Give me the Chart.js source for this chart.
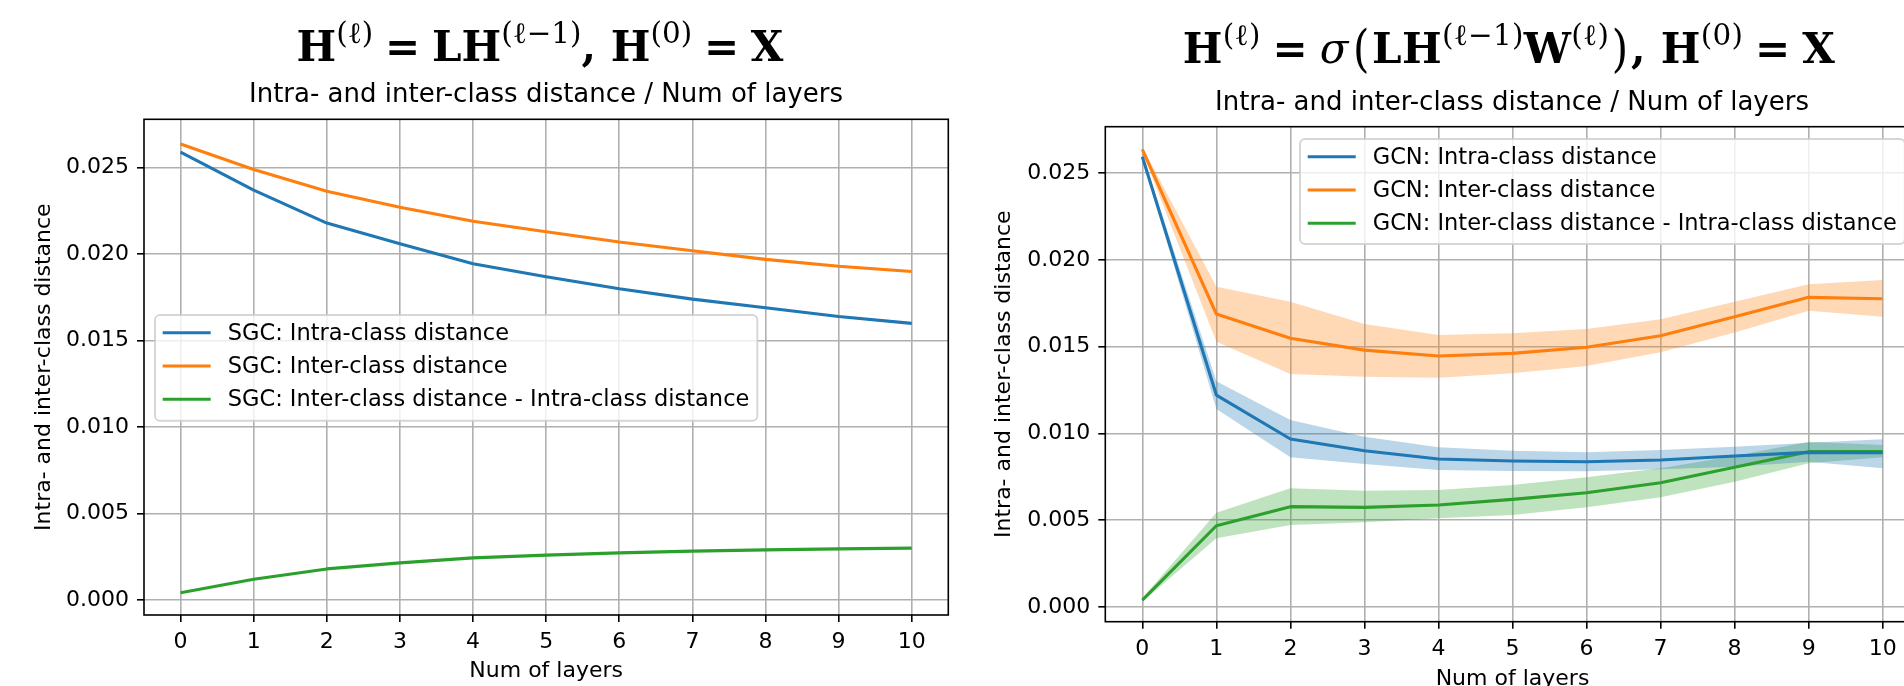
<!DOCTYPE html>
<html>
<head>
<meta charset="utf-8">
<script src="https://cdn.jsdelivr.net/npm/chart.js@4.4.0/dist/chart.umd.min.js"></script>
<style>
html, body { margin: 0; padding: 0; background: #fff; overflow: hidden; width: 1904px; height: 686px; }
canvas { position: absolute; top: 0; }
#left { left: 0; }
#right { left: 952px; }
.sup-title { position: absolute; font-family: "DejaVu Serif"; font-weight: bold; font-size: 42px; line-height: 1; white-space: nowrap; transform: translateX(-50%); color: #000; }
.sup-title sup { font-size: 0.7em; font-weight: normal; position: relative; top: -0.6em; vertical-align: baseline; }
.sup-title .eq { margin: 0 0.28em; }
.sup-title .big { display: inline-block; font-weight: normal; transform: scale(1, 1.2); margin: 0 0.06em; }
.sup-title i { font-weight: normal; margin-right: 0.04em; }
.sub-title { position: absolute; font-family: "DejaVu Sans"; font-size: 26px; line-height: 1; white-space: nowrap; transform: translateX(-50%); color: #000; }
</style>
</head>
<body>
<canvas id="left" width="952" height="700"></canvas>
<canvas id="right" width="990" height="700"></canvas>

<div class="sup-title" style="left:540px; top:26px;"><b>H</b><sup>(ℓ)</sup><span class="eq">=</span><b>LH</b><sup>(ℓ−1)</sup>, <b>H</b><sup>(0)</sup><span class="eq">=</span><b>X</b></div>
<div class="sub-title" style="left:546px; top:80px;">Intra- and inter-class distance / Num of layers</div>

<div class="sup-title" style="left:1509px; top:28px; letter-spacing:0.3px;"><b>H</b><sup>(ℓ)</sup><span class="eq">=</span><i>σ</i><span class="big">(</span><b>LH</b><sup>(ℓ−1)</sup><b>W</b><sup>(ℓ)</sup><span class="big">)</span>, <b>H</b><sup>(0)</sup><span class="eq">=</span><b>X</b></div>
<div class="sub-title" style="left:1512px; top:88px;">Intra- and inter-class distance / Num of layers</div>

<script>
// x values and ticks
const layers = [0, 1, 2, 3, 4, 5, 6, 7, 8, 9, 10];
const xTicks = [0, 1, 2, 3, 4, 5, 6, 7, 8, 9, 10];
const yTicks = [0, 0.005, 0.010, 0.015, 0.020, 0.025];

// SGC (left)
const sgcIntra = [0.0259, 0.0237, 0.0218, 0.0206, 0.01945, 0.0187, 0.0180, 0.0174, 0.0169, 0.0164, 0.0160];
const sgcInter = [0.02637, 0.0249, 0.02364, 0.02272, 0.0219, 0.0213, 0.0207, 0.0202, 0.0197, 0.0193, 0.0190];
const sgcGap = [0.00042, 0.0012, 0.0018, 0.00215, 0.00244, 0.0026, 0.00273, 0.00283, 0.0029, 0.00296, 0.0030];

// GCN (right) with spread bands
const gcnIntra = [0.02594, 0.01221, 0.00968, 0.0090, 0.00853, 0.00841, 0.00837, 0.00847, 0.0087, 0.00891, 0.00889];
const gcnIntraLo = [0.0258, 0.0114, 0.00862, 0.00824, 0.00789, 0.00783, 0.00782, 0.00793, 0.00808, 0.00837, 0.00799];
const gcnIntraHi = [0.0261, 0.0130, 0.01077, 0.00981, 0.0092, 0.0090, 0.00891, 0.00904, 0.00923, 0.00946, 0.00966];
const gcnInter = [0.02636, 0.01688, 0.01548, 0.0148, 0.01446, 0.01461, 0.01496, 0.01563, 0.01672, 0.01784, 0.01776];
const gcnInterLo = [0.0262, 0.01528, 0.01342, 0.01327, 0.01321, 0.01346, 0.01388, 0.01467, 0.01582, 0.01707, 0.01672];
const gcnInterHi = [0.0265, 0.01845, 0.01759, 0.0163, 0.01567, 0.01577, 0.01601, 0.01657, 0.01759, 0.01859, 0.01884];
const gcnGap = [0.0004, 0.00468, 0.00578, 0.00574, 0.00588, 0.0062, 0.00658, 0.00716, 0.00805, 0.00895, 0.00895];
const gcnGapLo = [0.0003, 0.00396, 0.00472, 0.00488, 0.00511, 0.0053, 0.00574, 0.00632, 0.00722, 0.00828, 0.00862];
const gcnGapHi = [0.0005, 0.00543, 0.00684, 0.0067, 0.00674, 0.00703, 0.00747, 0.00799, 0.0087, 0.00952, 0.00933];

const BLUE = "#1f77b4", ORANGE = "#ff7f0e", GREEN = "#2ca02c";

Chart.defaults.font.family = "DejaVu Sans";
Chart.defaults.font.size = 22;
Chart.defaults.color = "#000";

function pts(arr) {
    return layers.map((x, i) => ({x: x, y: arr[i]}));
}

function line(label, arr, color) {
    return {
        label: label, data: pts(arr), borderColor: color, backgroundColor: color,
        borderWidth: 3.1, pointRadius: 0, tension: 0, fill: false,
        borderJoinStyle: "round", inLegend: true
    };
}

function band(arr, color, fillNext) {
    return {
        label: "", data: pts(arr), borderColor: "transparent", backgroundColor: color,
        borderWidth: 0, pointRadius: 0, tension: 0, fill: fillNext ? "+1" : false
    };
}

// black box round the plot area
const frame = {
    id: "frame",
    afterDatasetsDraw(chart) {
        const a = chart.chartArea, ctx = chart.ctx;
        ctx.save();
        ctx.strokeStyle = "#000";
        ctx.lineWidth = 1.6;
        ctx.strokeRect(a.left, a.top, a.right - a.left, a.bottom - a.top);
        ctx.restore();
    }
};

// matplotlib style legend box
const boxLegend = {
    id: "boxLegend",
    afterDraw(chart, args, o) {
        const ctx = chart.ctx;
        const items = chart.data.datasets.filter(d => d.inLegend);
        ctx.save();
        ctx.font = o.fontSize + 'px "DejaVu Sans"';
        const tw = Math.max(...items.map(d => ctx.measureText(d.label).width));
        const w = o.textX + tw + o.padRight, h = o.height, r = 5;
        ctx.beginPath();
        ctx.roundRect(o.x, o.y, w, h, r);
        ctx.fillStyle = "rgba(255,255,255,0.8)";
        ctx.fill();
        ctx.strokeStyle = "rgba(204,204,204,0.8)";
        ctx.lineWidth = 2;
        ctx.stroke();
        items.forEach((d, i) => {
            const y = o.y + o.firstRow + i * o.rowH;
            ctx.beginPath();
            ctx.moveTo(o.x + o.handleX0, y);
            ctx.lineTo(o.x + o.handleX1, y);
            ctx.strokeStyle = d.borderColor;
            ctx.lineWidth = d.borderWidth;
            ctx.stroke();
            ctx.fillStyle = "#000";
            ctx.textBaseline = "middle";
            ctx.fillText(d.label, o.x + o.textX, y + 1);
        });
        ctx.restore();
    }
};

function makeOptions(cfg) {
    return {
        responsive: false,
        animation: false,
        layout: {padding: {left: 0, right: cfg.padRight, top: cfg.top, bottom: 0}},
        plugins: {
            legend: {display: false},
            tooltip: {enabled: false},
            filler: {drawTime: "beforeDatasetsDraw"},
            boxLegend: cfg.legend
        },
        scales: {
            x: {
                type: "linear", min: -0.5, max: 10.5,
                afterBuildTicks: s => { s.ticks = xTicks.map(v => ({value: v})); },
                afterFit: s => { s.height = cfg.xHeight; },
                ticks: {padding: 7, maxRotation: 0, autoSkip: false, callback: v => String(v)},
                grid: {color: "#b0b0b0", lineWidth: 1.6, tickColor: "#000", tickLength: 7, tickWidth: 1.6},
                border: {display: false},
                title: {display: true, text: "Num of layers", padding: {top: 0, bottom: cfg.xTitlePad}}
            },
            y: {
                type: "linear", min: cfg.yMin, max: cfg.yMax,
                afterBuildTicks: s => { s.ticks = yTicks.map(v => ({value: v})); },
                afterFit: s => { s.width = cfg.yWidth; },
                ticks: {padding: 8, callback: v => v.toFixed(3)},
                grid: {color: "#b0b0b0", lineWidth: 1.6, tickColor: "#000", tickLength: 7, tickWidth: 1.6},
                border: {display: false},
                title: {display: true, text: "Intra- and inter-class distance", padding: {top: cfg.yTitlePad, bottom: 0}}
            }
        }
    };
}

new Chart(document.getElementById("left"), {
    type: "line",
    data: {
        datasets: [
            line("SGC: Intra-class distance", sgcIntra, BLUE),
            line("SGC: Inter-class distance", sgcInter, ORANGE),
            line("SGC: Inter-class distance - Intra-class distance", sgcGap, GREEN)
        ]
    },
    options: makeOptions({
        padRight: 3.7, top: 119.3, xHeight: 85, yWidth: 144,
        yMin: -0.000865, yMax: 0.0278, xTitlePad: 16, yTitlePad: 31,
        legend: {x: 155, y: 315, height: 105.7, firstRow: 17.7, rowH: 33.3,
                 handleX0: 7.7, handleX1: 55.7, textX: 72.7, padRight: 8, fontSize: 22.5}
    }),
    plugins: [frame, boxLegend]
});

new Chart(document.getElementById("right"), {
    type: "line",
    data: {
        datasets: [
            line("GCN: Intra-class distance", gcnIntra, BLUE),
            line("GCN: Inter-class distance", gcnInter, ORANGE),
            line("GCN: Inter-class distance - Intra-class distance", gcnGap, GREEN),
            band(gcnIntraHi, "rgba(31,119,180,0.3)", true),
            band(gcnIntraLo, "rgba(31,119,180,0.3)", false),
            band(gcnInterHi, "rgba(255,127,14,0.3)", true),
            band(gcnInterLo, "rgba(255,127,14,0.3)", false),
            band(gcnGapHi, "rgba(44,160,44,0.3)", true),
            band(gcnGapLo, "rgba(44,160,44,0.3)", false)
        ]
    },
    options: makeOptions({
        padRight: 22.3, top: 126.7, xHeight: 78.3, yWidth: 153.3,
        yMin: -0.000847, yMax: 0.02767, xTitlePad: 8, yTitlePad: 39,
        legend: {x: 348, y: 139, height: 105, firstRow: 17.7, rowH: 33.3,
                 handleX0: 7.7, handleX1: 55.7, textX: 72.7, padRight: 8, fontSize: 22.5}
    }),
    plugins: [frame, boxLegend]
});
</script>
</body>
</html>
